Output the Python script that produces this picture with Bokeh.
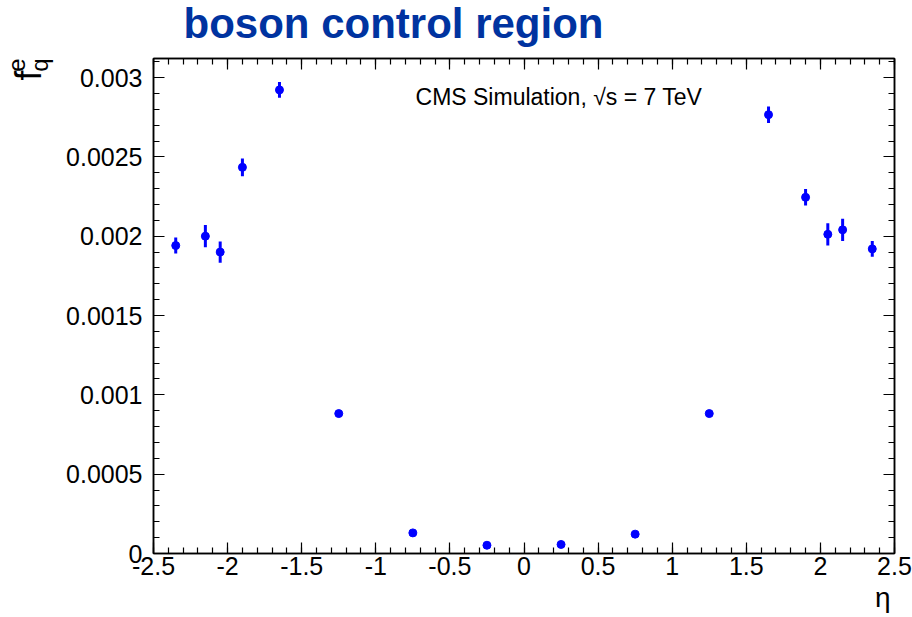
from bokeh.plotting import figure
from bokeh.models import (Label, LinearAxis, FixedTicker, CustomJSTickFormatter, Range1d, Title)
from bokeh.embed import file_html
from bokeh.resources import INLINE

# ---- data ----
eta = [-2.35, -2.15, -2.05, -1.9, -1.65, -1.25, -0.75, -0.25,
       0.25, 0.75, 1.25, 1.65, 1.9, 2.05, 2.15, 2.35]
fq = [0.001941, 0.002000, 0.001900, 0.002434, 0.002922, 0.000882, 0.000130, 0.000052,
      0.000057, 0.000122, 0.000882, 0.002766, 0.002245, 0.002012, 0.002040, 0.001920]
err = [0.000050, 0.000070, 0.000067, 0.000056, 0.000050, 0.000012, 0.000008, 0.000005,
       0.000005, 0.000008, 0.000012, 0.000052, 0.000052, 0.000070, 0.000070, 0.000050]

x_major = [-2.5, -2.0, -1.5, -1.0, -0.5, 0.0, 0.5, 1.0, 1.5, 2.0, 2.5]
y_major = [0.0, 0.0005, 0.001, 0.0015, 0.002, 0.0025, 0.003]

x_minor = [round(-2.5 + 0.1 * i, 1) for i in range(51)]
y_minor = [round(0.0001 * i, 4) for i in range(32)]

title_text = "boson control region"
cms_text = "CMS Simulation, \u221As = 7 TeV"

lo = [v - e for v, e in zip(fq, err)]
hi = [v + e for v, e in zip(fq, err)]

FONT = "Liberation Sans"

p = figure(width=912, height=617, output_backend="svg", toolbar_location=None,
           x_range=Range1d(-2.5, 2.5), y_range=Range1d(0, 0.00312),
           min_border_left=153, min_border_right=18, min_border_top=58,
           min_border_bottom=64, x_axis_location=None, y_axis_location=None)
p.background_fill_color = "white"
p.border_fill_color = "white"
p.grid.visible = False
p.outline_line_color = "black"
p.outline_line_width = 1.5

fmt = CustomJSTickFormatter(code="return String(tick);")

def make_axis(ticks, minors, labels, standoff, spacer=None):
    ax = LinearAxis(ticker=FixedTicker(ticks=ticks, minor_ticks=minors))
    ax.axis_line_color = "black"
    ax.axis_line_width = 1.5
    ax.major_tick_in = 11
    ax.major_tick_out = 0
    ax.minor_tick_in = 6
    ax.minor_tick_out = 0
    ax.major_tick_line_color = "black"
    ax.minor_tick_line_color = "black"
    ax.major_tick_line_width = 1.2
    ax.minor_tick_line_width = 1.2
    ax.major_label_standoff = standoff
    if labels:
        ax.formatter = fmt
        ax.major_label_text_font = FONT
        ax.major_label_text_font_size = "25px"
        ax.major_label_text_color = "black"
    else:
        ax.major_label_text_font_size = "0px"
        ax.major_label_text_alpha = 0
    if spacer is not None:
        ax.axis_label = " "
        ax.axis_label_text_font_size = "10px"
        ax.axis_label_standoff = int(spacer)
    return ax

p.add_layout(make_axis(x_major, x_minor, True, 3), "below")
p.add_layout(make_axis(x_major, x_minor, False, 0, spacer=21), "above")
p.add_layout(make_axis(y_major, y_minor, True, 11, spacer=10), "left")
p.add_layout(make_axis(y_major, y_minor, False, 0), "right")

p.segment(x0=eta, y0=lo, x1=eta, y1=hi, line_color="#0000ff", line_width=3)
p.scatter(x=eta, y=fq, size=8, color="#0000ff")

# main title
p.title.text = title_text
p.title.text_font = FONT
p.title.text_font_style = "bold"
p.title.text_font_size = "42px"
p.title.text_color = "#0033a0"
p.title.align = "left"
p.title.vertical_align = "middle"
p.title.offset = 30
p.title.standoff = -48

p.add_layout(Label(x=-0.732, y=0.00288, text=cms_text,
                   text_font=FONT, text_font_size="23px", text_color="black",
                   text_baseline="middle"))

# axis titles placed in the side panels
def side_title(text, size, standoff, offset, align="right"):
    return Title(text=text, text_font=FONT, text_font_size=size, text_font_style="normal",
                 text_color="black", align=align, vertical_align="middle",
                 standoff=standoff, offset=offset)

p.add_layout(side_title("q", "24px", -41.6, 0), "left")
p.add_layout(side_title("f", "36px", -21.4, 12), "left")
p.add_layout(side_title("e", "24px", -15.6, 0), "left")

p.add_layout(side_title("\u03b7", "28px", 6, 4), "below")

open("out.html", "w").write(file_html(p, INLINE))
